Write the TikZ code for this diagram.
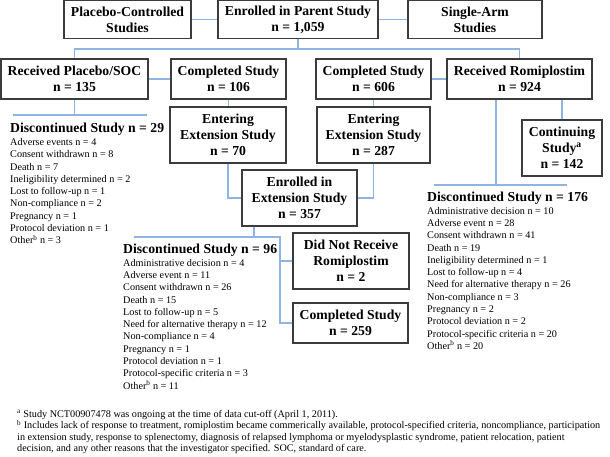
\documentclass[tikz,border=0pt]{standalone}
\usepackage{fontspec}
\setmainfont{Liberation Serif}
\definecolor{connblue}{RGB}{141,180,226}
\definecolor{boxgray}{RGB}{60,60,60}
\tikzset{
  box/.style={draw=boxgray, line width=1.1pt, inner sep=0pt, align=center,
    font=\fontsize{13.7}{16}\selectfont\bfseries},
  conn/.style={draw=connblue, line width=1.4pt},
  head/.style={anchor=base west, inner sep=0pt, font=\fontsize{13.7}{16}\selectfont\bfseries},
  items/.style={anchor=base west, inner sep=0pt, align=left, font=\fontsize{10.2}{12.27}\selectfont},
  foot/.style={anchor=base west, inner sep=0pt, align=left, font=\fontsize{10.2}{11.3}\selectfont}
}
\begin{document}
\begin{tikzpicture}[x=1pt,y=-1pt]
\useasboundingbox (0,0) rectangle (610,457);
% top row
\node[box, minimum width=127pt, minimum height=38pt] (pc) at (127.5,19.5) {Placebo-Controlled\\Studies};
\node[box, minimum width=160pt, minimum height=38pt] (ep) at (298,19.5) {Enrolled in Parent Study\\n = 1,059};
\node[box, minimum width=134pt, minimum height=38pt] (sa) at (475,19.5) {Single-Arm\\Studies};
% second row
\node[box, minimum width=147pt, minimum height=40pt] (rp) at (74.5,79) {Received Placebo/SOC\\n = 135};
\node[box, minimum width=115pt, minimum height=40pt] (cs1) at (228.5,79) {Completed Study\\n = 106};
\node[box, minimum width=115pt, minimum height=40pt] (cs2) at (373.5,79) {Completed Study\\n = 606};
\node[box, minimum width=145pt, minimum height=40pt] (rr) at (519.5,79) {Received Romiplostim\\n = 924};
% extension
\node[box, minimum width=116pt, minimum height=56pt] (en70) at (228,135) {Entering\\Extension Study\\n = 70};
\node[box, minimum width=113pt, minimum height=56pt] (en287) at (373.5,135) {Entering\\Extension Study\\n = 287};
\node[box, minimum width=115pt, minimum height=56pt] (ee) at (299.5,198) {Enrolled in\\Extension Study\\n = 357};
\node[box, minimum width=80pt, minimum height=56pt] (cont) at (562,148) {Continuing\\Study\textsuperscript{a}\\n = 142};
\node[box, minimum width=116pt, minimum height=56pt] (dnr) at (351,261) {Did Not Receive\\Romiplostim\\n = 2};
\node[box, minimum width=115pt, minimum height=40pt] (c259) at (350.5,323) {Completed Study\\n = 259};
% connectors
\draw[conn] (pc.east) -- (ep.west);
\draw[conn] (ep.east) -- (sa.west);
\coordinate (j1) at (298,49);
\draw[conn] (ep.south) -- (j1);
\draw[conn] (rp.north) |- (j1) -| (rr.north);
\draw[conn] (rp.east) -- (cs1.west);
\draw[conn] (cs2.east) -- (rr.west);
\draw[conn] (cs1.south) -- (cs1.south |- en70.north);
\draw[conn] (cs2.south) -- (cs2.south |- en287.north);
\draw[conn] (en70.south) |- (ee.west);
\draw[conn] (en287.south) |- (ee.east);
% discontinued 29 connector
\coordinate (h29) at (74.5,115);
\coordinate (h29l) at (13,115);
\coordinate (h29r) at (147,115);
\draw[conn] (rp.south) -- (h29);
\draw[conn] (h29l) -- (h29r);
% romiplostim connectors
\coordinate (h176) at (496,185);
\coordinate (h176l) at (434,185);
\coordinate (h176r) at (567,185);
\draw[conn] (h176 |- rr.south) -- (h176);
\draw[conn] (h176l) -- (h176r);
\draw[conn] (cont.north |- rr.south) -- (cont.north);
% extension study connectors
\coordinate (h96) at (254,237);
\coordinate (h96l) at (134,237);
\coordinate (b96) at (280,237);
\draw[conn] (h96 |- ee.south) -- (h96);
\draw[conn] (h96l) -- (b96) |- (c259.west);
\draw[conn] (b96) |- (dnr.west);
% lists (base anchor = baseline of last line)
\node[head] (d29h) at (10,132.3) {Discontinued Study n = 29};
\node[items] (d29) at (10,243.8) {Adverse events n = 4\\Consent withdrawn n = 8\\Death n = 7\\Ineligibility determined n = 2\\Lost to follow-up n = 1\\Non-compliance n = 2\\Pregnancy n = 1\\Protocol deviation n = 1\\Other\textsuperscript{b} n = 3};
\node[head] (d96h) at (123,253.5) {Discontinued Study n = 96};
\node[items] (d96) at (123,389.0) {Administrative decision n = 4\\Adverse event n = 11\\Consent withdrawn n = 26\\Death n = 15\\Lost to follow-up n = 5\\Need for alternative therapy n = 12\\Non-compliance n = 4\\Pregnancy n = 1\\Protocol deviation n = 1\\Protocol-specific criteria n = 3\\Other\textsuperscript{b} n = 11};
\node[head] (d176h) at (427,201.5) {Discontinued Study n = 176};
\node[items] (d176) at (427,349.3) {Administrative decision n = 10\\Adverse event n = 28\\Consent withdrawn n = 41\\Death n = 19\\Ineligibility determined n = 1\\Lost to follow-up n = 4\\Need for alternative therapy n = 26\\Non-compliance n = 3\\Pregnancy n = 2\\Protocol deviation n = 2\\Protocol-specific criteria n = 20\\Other\textsuperscript{b} n = 20};
% footnotes
\node[foot] (fa) at (17,417.5) {\textsuperscript{a} Study NCT00907478 was ongoing at the time of data cut-off (April 1, 2011).};
\node[foot] (fb) at (17,451.5) {\textsuperscript{b} Includes lack of response to treatment, romiplostim became commerically available, protocol-specified criteria, noncompliance, participation\\in extension study, response to splenectomy, diagnosis of relapsed lymphoma or myelodysplastic syndrome, patient relocation, patient\\decision, and any other reasons that the investigator specified. SOC, standard of care.};
\end{tikzpicture}
\end{document}
